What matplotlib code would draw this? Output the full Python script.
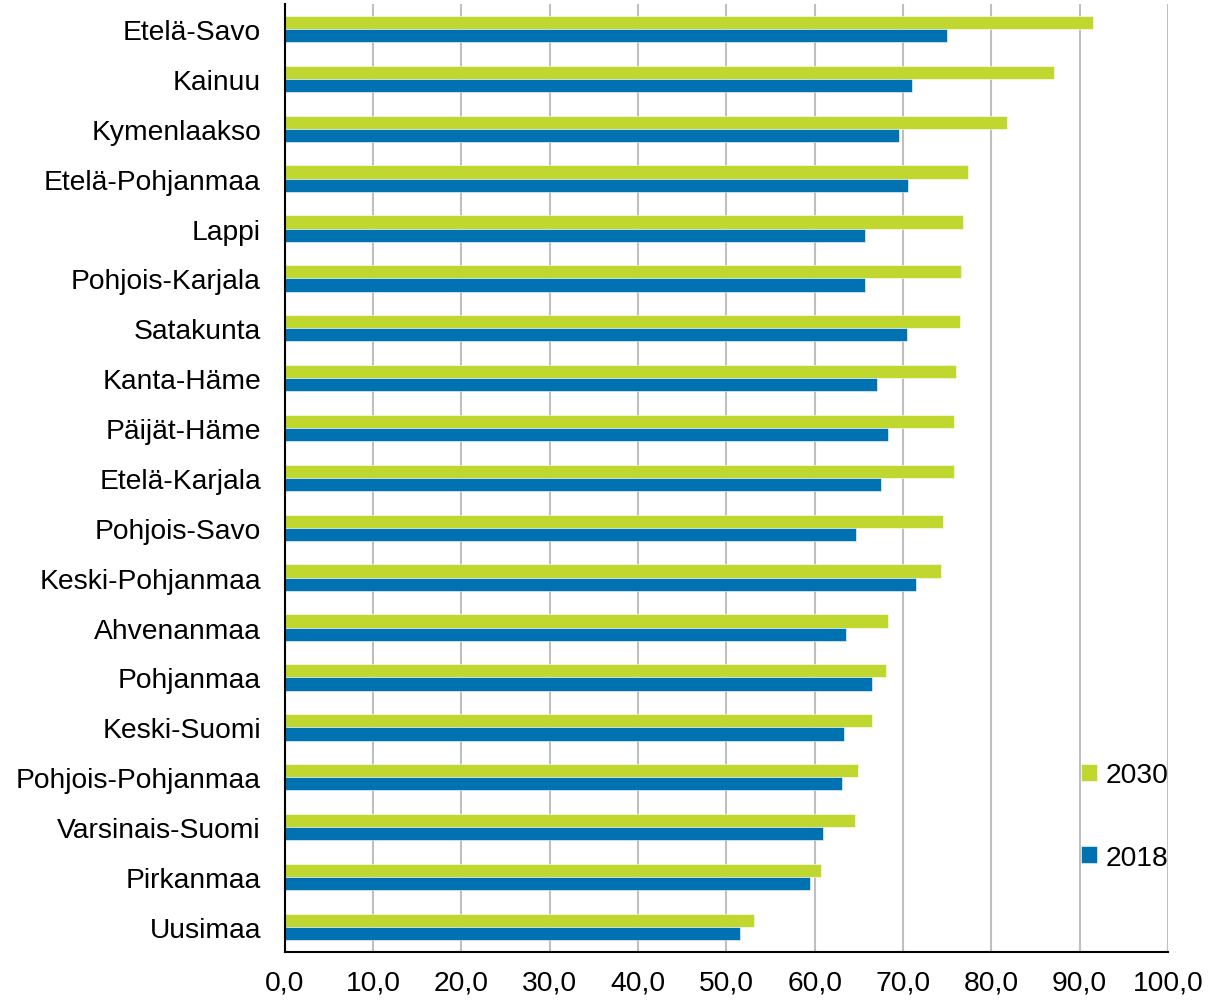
import numpy as np
import matplotlib
matplotlib.use('Agg')
import matplotlib.pyplot as plt

plt.rcParams['font.family'] = ['Liberation Sans', 'DejaVu Sans']

# regions, top to bottom
regions = ['Etelä-Savo', 'Kainuu', 'Kymenlaakso', 'Etelä-Pohjanmaa', 'Lappi',
           'Pohjois-Karjala', 'Satakunta', 'Kanta-Häme', 'Päijät-Häme',
           'Etelä-Karjala', 'Pohjois-Savo', 'Keski-Pohjanmaa', 'Ahvenanmaa',
           'Pohjanmaa', 'Keski-Suomi', 'Pohjois-Pohjanmaa', 'Varsinais-Suomi',
           'Pirkanmaa', 'Uusimaa']
v2030 = [91.5, 87.1, 81.8, 77.4, 76.8, 76.6, 76.4, 76.0, 75.8, 75.8,
         74.5, 74.3, 68.3, 68.1, 66.5, 64.9, 64.6, 60.7, 53.1]
v2018 = [75.0, 71.0, 69.5, 70.6, 65.7, 65.7, 70.4, 67.1, 68.3, 67.5,
         64.7, 71.5, 63.5, 66.5, 63.3, 63.1, 60.9, 59.5, 51.5]
xticks = np.arange(0, 101, 10)

green = '#C0D72F'
blue = '#0071B1'
fs = 20.3

fig = plt.figure(figsize=(12.11, 10.03), dpi=100)
ax = fig.add_axes([0.235, 0.05, 0.7295, 0.945])

n = len(regions)
pos = np.arange(n)[::-1]
h = 0.265
ax.barh(pos + h/2, v2030, height=h, color=green, edgecolor='white', lw=0.4, label='2030', zorder=3)
ax.barh(pos - h/2, v2018, height=h, color=blue, edgecolor='white', lw=0.4, label='2018', zorder=3)

ax.set_ylim(-0.5, n - 0.5)
ax.set_xlim(0, 100)
ax.set_yticks(pos)
ax.set_yticklabels(regions, fontsize=fs)
ax.set_xticks(xticks)
ax.set_xticklabels([('%.1f' % t).replace('.', ',') for t in xticks], fontsize=fs)
ax.tick_params(axis='y', length=0, pad=17)
ax.tick_params(axis='x', length=0, pad=13)

ax.grid(axis='x', color='#BFBFBF', lw=1.5, zorder=0)
ax.set_axisbelow(True)
for s in ['top', 'right']:
    ax.spines[s].set_visible(False)
for s in ['left', 'bottom']:
    ax.spines[s].set_color('black')
    ax.spines[s].set_linewidth(1.5)
    ax.spines[s].set_zorder(4)

ax.legend(loc='upper right', bbox_to_anchor=(1.0, 0.2), frameon=False, fontsize=fs,
          borderpad=0, borderaxespad=0, handlelength=0.55, handleheight=0.55,
          handletextpad=0.3, labelspacing=2.0)

fig.savefig('out.png', dpi=100)
